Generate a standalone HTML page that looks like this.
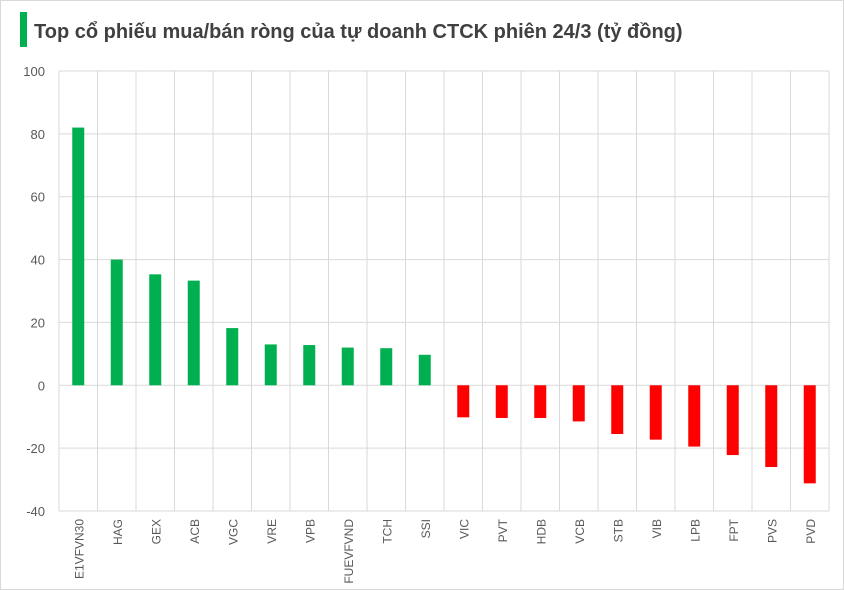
<!DOCTYPE html>
<html><head><meta charset="utf-8"><style>
body{margin:0;background:#fff;}
svg{display:block;font-family:"Liberation Sans","Noto Sans CJK SC",sans-serif;}
</style></head><body>
<svg id="c" width="844" height="590">
<rect x="0.5" y="0.5" width="843" height="589" fill="#fff" stroke="#d9d9d9"/>
<rect x="20" y="12" width="7" height="35" fill="#00b050"/>
<text x="34" y="38" font-size="20" font-weight="bold" fill="#404040">Top cổ phiếu mua/bán ròng của tự doanh CTCK phiên 24/3 (tỷ đồng)</text>
<g id="grid"></g><g id="bars"></g><g id="labels"></g>
</svg>
<script>
const categories=["E1VFVN30","HAG","GEX","ACB","VGC","VRE","VPB","FUEVFVND","TCH","SSI","VIC","PVT","HDB","VCB","STB","VIB","LPB","FPT","PVS","PVD"];
const values=[82,40,35.3,33.3,18.2,13,12.8,12,11.8,9.7,-10.2,-10.4,-10.4,-11.5,-15.5,-17.3,-19.5,-22.2,-26,-31.2];
const ticks=[100,80,60,40,20,0,-20,-40];
const L=59,R=829,T=71,B=511,ymax=100,ymin=-40;
const y=v=>T+(ymax-v)/(ymax-ymin)*(B-T);
const bw=(R-L)/categories.length;
const x=i=>L+i*bw;
const ns="http://www.w3.org/2000/svg";
function mk(tag,attrs,parent){const e=document.createElementNS(ns,tag);for(const k in attrs)e.setAttribute(k,attrs[k]);document.getElementById(parent).appendChild(e);return e;}
ticks.forEach(t=>{
 const l=mk("line",{x1:L,x2:R,y1:y(t),y2:y(t),stroke:"#d9d9d9","stroke-width":1},"grid");
 
 
 const tx=mk("text",{x:L-14,y:y(t)+5,"text-anchor":"end","font-size":13,fill:"#595959"},"labels");
 tx.textContent=t;
 
 
});
for(let i=0;i<=categories.length;i++){
 const l=mk("line",{x1:x(i),x2:x(i),y1:T,y2:B,stroke:"#d9d9d9","stroke-width":1},"grid");
 
 
}
categories.forEach((c,i)=>{
 const v=values[i],cx=x(i)+bw/2,w=12;
 const r=mk("rect",{x:cx-w/2,y:Math.min(y(v),y(0)),width:w,height:Math.abs(y(v)-y(0)),fill:v>=0?"#00b050":"#ff0000"},"bars");
 
 
 const tx=mk("text",{x:cx+5,y:B+8,"text-anchor":"end","font-size":12,fill:"#595959",transform:`rotate(-90 ${cx+5} ${B+8})`},"labels");
 tx.textContent=c;
 
 
});
</script>
</body></html>
